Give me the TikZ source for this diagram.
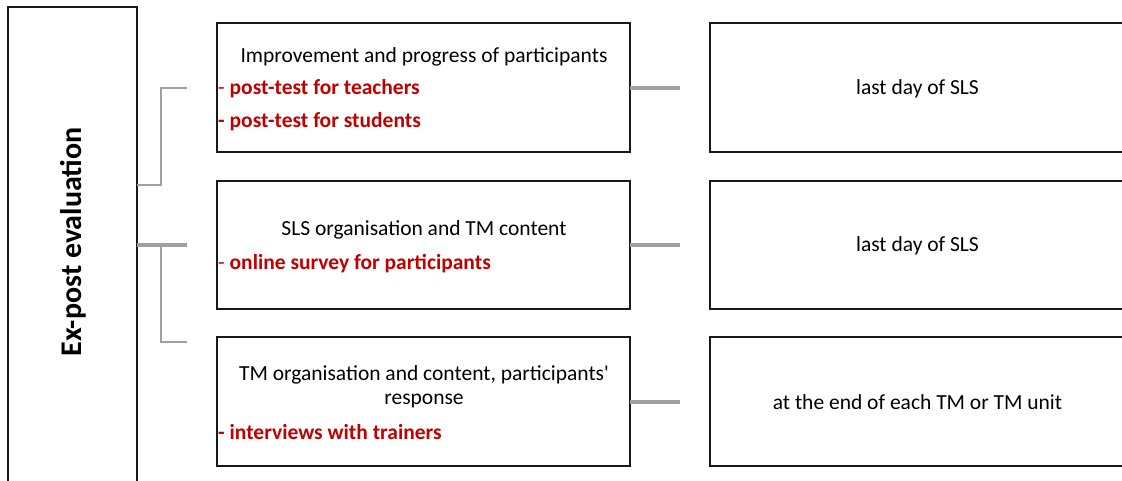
\documentclass[tikz,border=0pt]{standalone}
\usepackage{fontspec}
\setmainfont{Carlito}
\definecolor{linkgray}{RGB}{160,160,160}
\definecolor{itemred}{RGB}{192,0,0}
\definecolor{edge}{RGB}{25,25,25}
\begin{document}
\begin{tikzpicture}[x=1pt,y=-1pt,
  box/.style={draw=edge, line width=1.4pt, inner sep=0pt, outer sep=0pt},
  link/.style={draw=linkgray, line width=2pt},
  thicklink/.style={draw=linkgray, line width=3.2pt},
  title/.style={font=\fontsize{21.5}{24}\selectfont, align=center, inner sep=0pt},
  item/.style={font=\fontsize{21.5}{24}\selectfont\bfseries, text=itemred, anchor=west, inner sep=0pt},
  plain/.style={font=\fontsize{21.5}{24}\selectfont, inner sep=0pt}]
\useasboundingbox (0,0) rectangle (1122,480);

% side panel
\node[box, minimum width=129pt, minimum height=480pt] (side) at (72.5,247) {};
\node[rotate=90, inner sep=0pt, font=\fontsize{30}{34}\selectfont\bfseries] (sidelabel) at (73,242) {Ex-post evaluation};

% method boxes
\node[box, minimum width=413pt, minimum height=129pt] (m1) at (423.5,87.5) {};
\node[box, minimum width=413pt, minimum height=128pt] (m2) at (423.5,245) {};
\node[box, minimum width=413pt, minimum height=129pt] (m3) at (423.5,401.5) {};

% timing boxes
\node[box, minimum width=415pt, minimum height=129pt] (r1) at (917.5,87.5) {};
\node[box, minimum width=415pt, minimum height=128pt] (r2) at (917.5,245) {};
\node[box, minimum width=415pt, minimum height=129pt] (r3) at (917.5,401.5) {};

% method box contents
\node[title] (t1) at (424,57) {Improvement and progress of participants};
\node[item] (i1a) at (218,89) {\mdseries-\ \bfseries post-test for teachers};
\node[item] (i1b) at (218,122) {- post-test for students};

\node[title] (t2) at (424,230) {SLS organisation and TM content};
\node[item] (i2a) at (218,264) {\mdseries-\ \bfseries online survey for participants};

\node[title] (t3) at (424,387) {TM organisation and content, participants\textquotesingle\\response};
\node[item] (i3a) at (218,432) {- interviews with trainers};

% timing box contents
\node[plain] (d1) at ([yshift=-1pt]r1) {last day of SLS};
\node[plain] (d2) at ([yshift=-1pt]r2) {last day of SLS};
\node[plain] (d3) at ([yshift=-1pt]r3) {at the end of each TM or TM unit};

% tree connectors from the side panel
\coordinate (c1) at (187,88);
\coordinate (c2) at (187,245);
\coordinate (c3) at (187,342);
\draw[link] (side.east |- 0,185) -- (161,185) -- (161,88) -- (c1);
\draw[thicklink] (side.east |- 0,245) -- (c2);
\draw[link] (161,245) -- (161,342) -- (c3);

% stubs towards the timing boxes
\coordinate (e1) at (680,88);
\coordinate (e2) at (680,245);
\coordinate (e3) at (680,402);
\draw[thicklink] (m1.east |- e1) -- (e1);
\draw[thicklink] (m2.east |- e2) -- (e2);
\draw[thicklink] (m3.east |- e3) -- (e3);
\end{tikzpicture}
\end{document}
